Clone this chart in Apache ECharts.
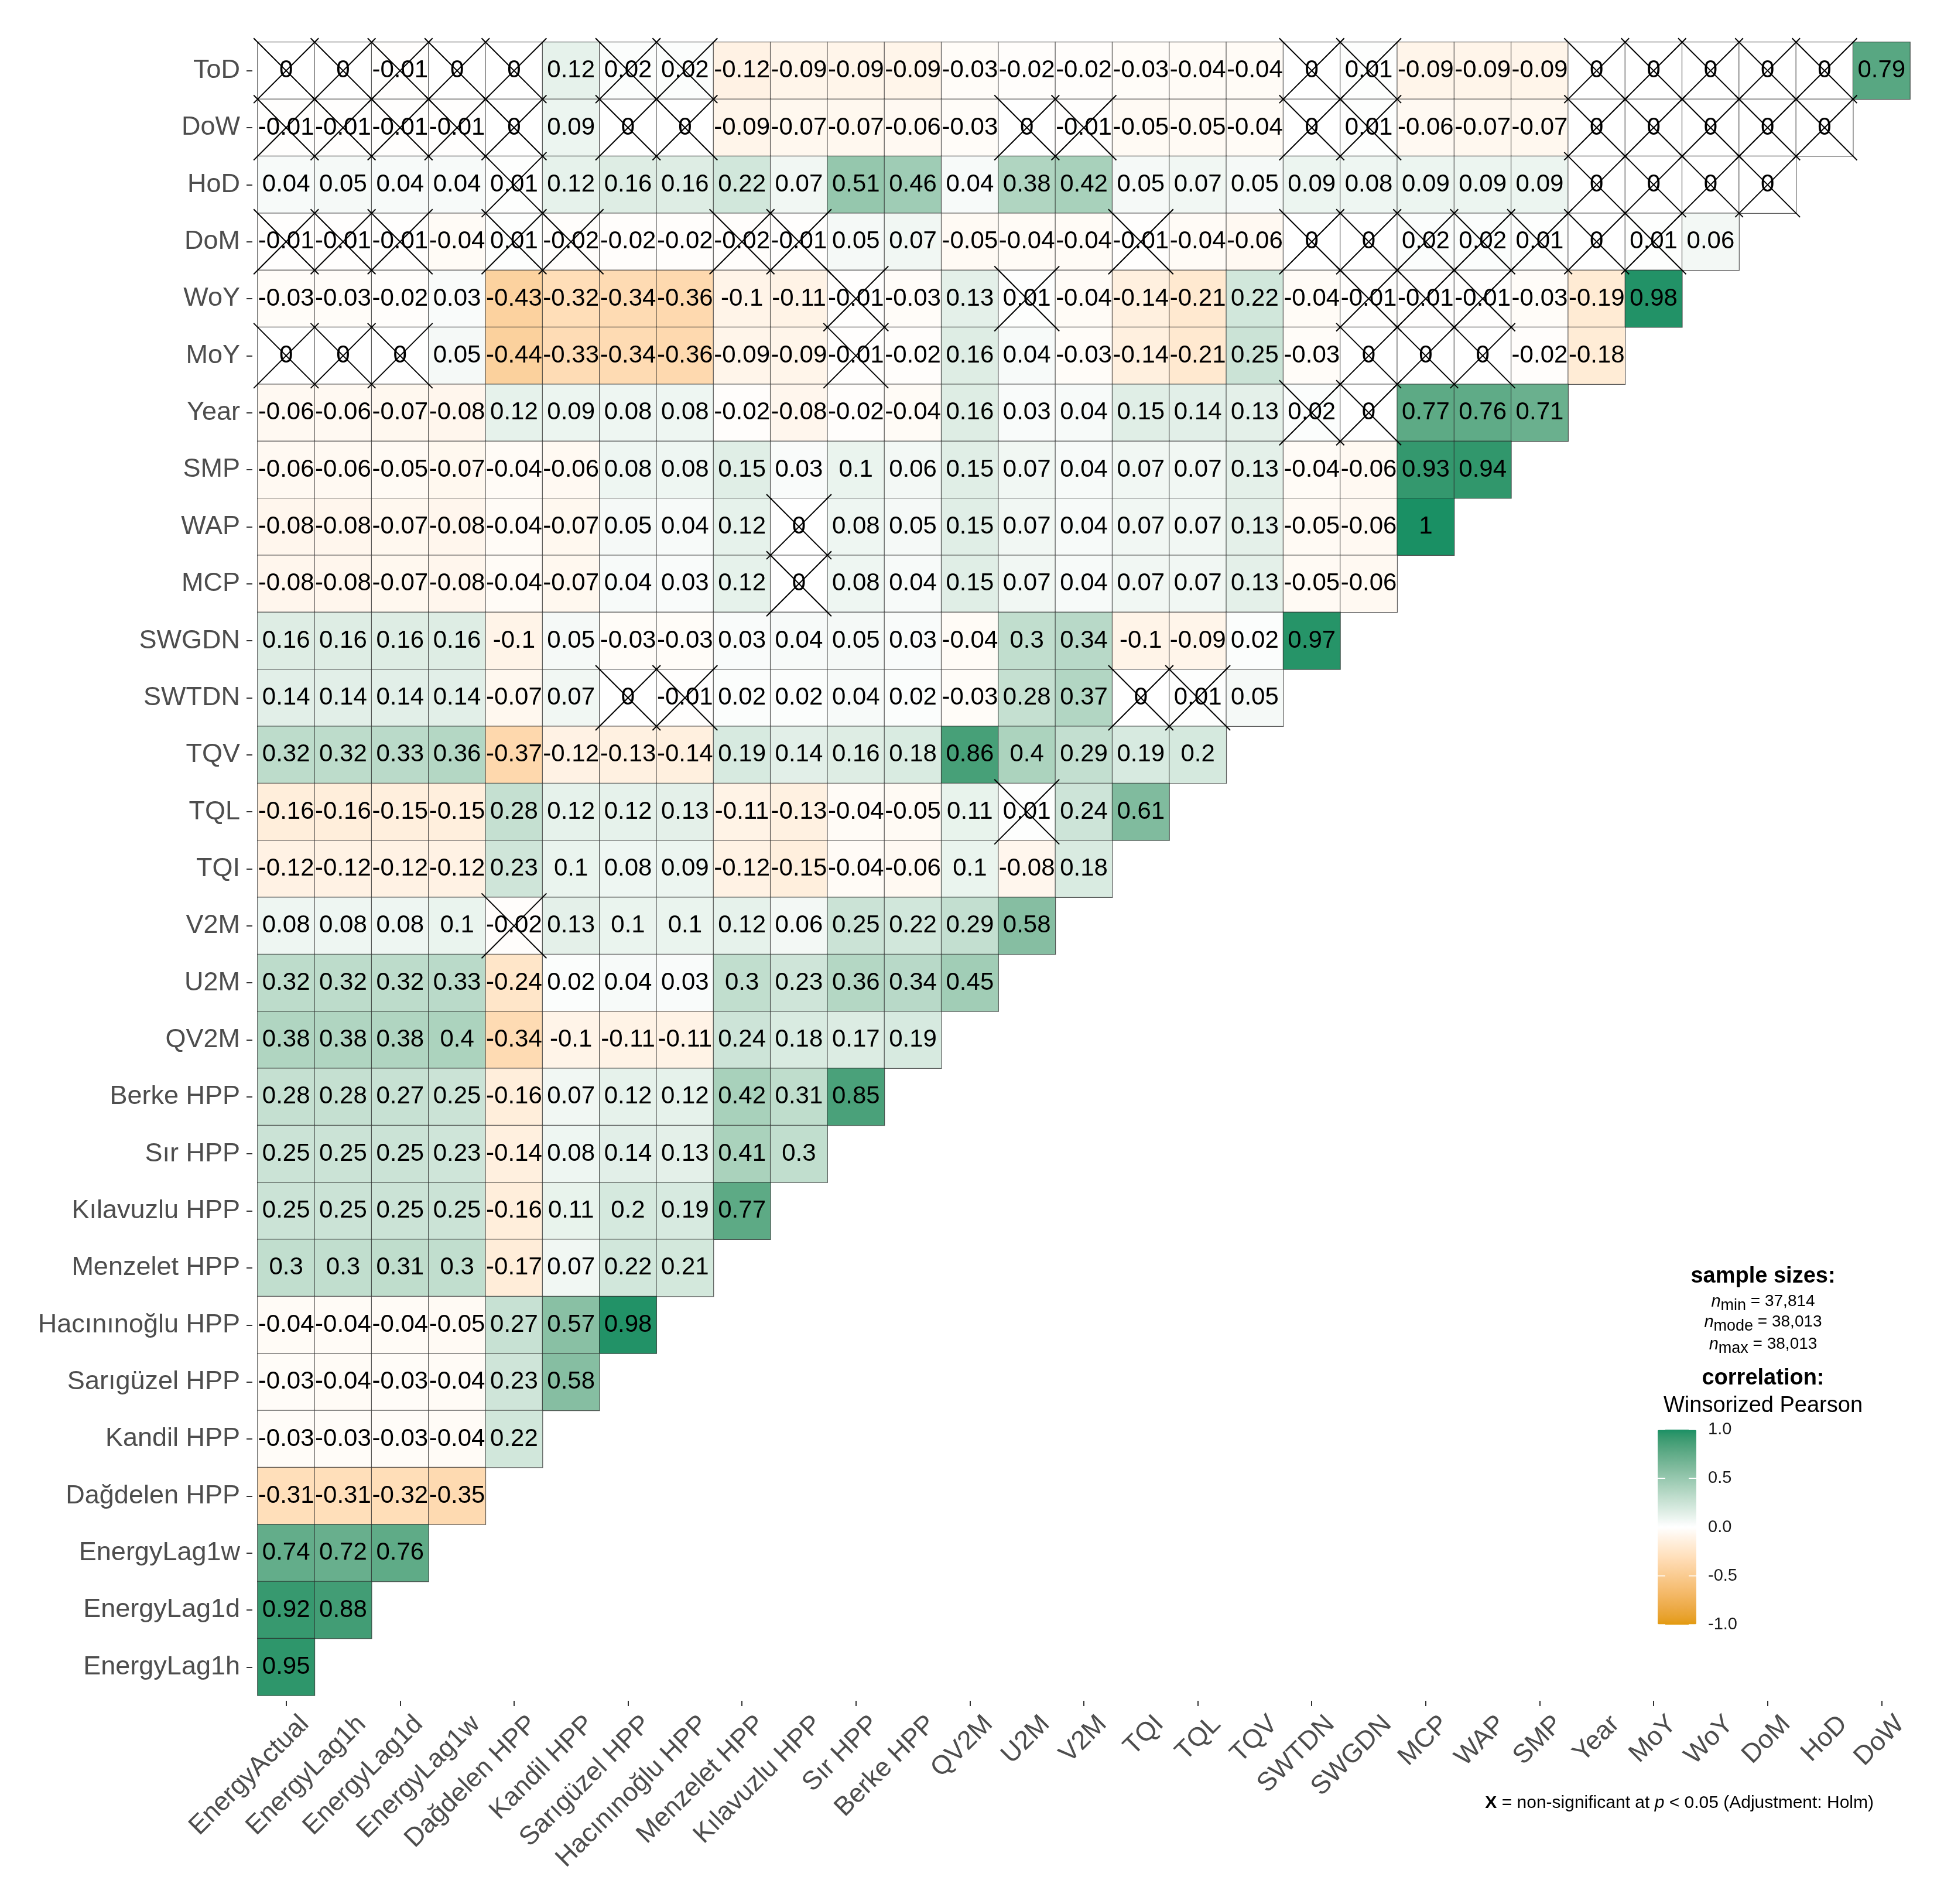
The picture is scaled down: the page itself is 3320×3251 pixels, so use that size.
<!DOCTYPE html>
<html>
<head>
<meta charset="utf-8">
<script src="https://cdn.jsdelivr.net/npm/echarts@6/dist/echarts.min.js"></script>
<style>
  html, body { margin: 0; padding: 0; background: #fff; }
  #chart { width: 3320px; height: 3251px; }
</style>
</head>
<body>
<div id="chart"></div>
<script>
// variables, top row to bottom row
var rowNames = ['ToD','DoW','HoD','DoM','WoY','MoY','Year','SMP','WAP','MCP','SWGDN','SWTDN','TQV','TQL','TQI','V2M','U2M','QV2M',
  'Berke HPP','Sır HPP','Kılavuzlu HPP','Menzelet HPP','Hacınınoğlu HPP','Sarıgüzel HPP','Kandil HPP','Dağdelen HPP',
  'EnergyLag1w','EnergyLag1d','EnergyLag1h'];
// variables, left to right
var colNames = ['EnergyActual','EnergyLag1h','EnergyLag1d','EnergyLag1w','Dağdelen HPP','Kandil HPP','Sarıgüzel HPP','Hacınınoğlu HPP',
  'Menzelet HPP','Kılavuzlu HPP','Sır HPP','Berke HPP','QV2M','U2M','V2M','TQI','TQL','TQV','SWTDN','SWGDN','MCP','WAP','SMP',
  'Year','MoY','WoY','DoM','HoD','DoW'];

// correlations per row (from left)
var vToD = [0,0,-0.01,0,0,0.12,0.02,0.02,-0.12,-0.09,-0.09,-0.09,-0.03,-0.02,-0.02,-0.03,-0.04,-0.04,0,0.01,-0.09,-0.09,-0.09,0,0,0,0,0,0.79];
var vDoW = [-0.01,-0.01,-0.01,-0.01,0,0.09,0,0,-0.09,-0.07,-0.07,-0.06,-0.03,0,-0.01,-0.05,-0.05,-0.04,0,0.01,-0.06,-0.07,-0.07,0,0,0,0,0];
var vHoD = [0.04,0.05,0.04,0.04,0.01,0.12,0.16,0.16,0.22,0.07,0.51,0.46,0.04,0.38,0.42,0.05,0.07,0.05,0.09,0.08,0.09,0.09,0.09,0,0,0,0];
var vDoM = [-0.01,-0.01,-0.01,-0.04,0.01,-0.02,-0.02,-0.02,-0.02,-0.01,0.05,0.07,-0.05,-0.04,-0.04,-0.01,-0.04,-0.06,0,0,0.02,0.02,0.01,0,0.01,0.06];
var vWoY = [-0.03,-0.03,-0.02,0.03,-0.43,-0.32,-0.34,-0.36,-0.1,-0.11,-0.01,-0.03,0.13,0.01,-0.04,-0.14,-0.21,0.22,-0.04,-0.01,-0.01,-0.01,-0.03,-0.19,0.98];
var vMoY = [0,0,0,0.05,-0.44,-0.33,-0.34,-0.36,-0.09,-0.09,-0.01,-0.02,0.16,0.04,-0.03,-0.14,-0.21,0.25,-0.03,0,0,0,-0.02,-0.18];
var vYear = [-0.06,-0.06,-0.07,-0.08,0.12,0.09,0.08,0.08,-0.02,-0.08,-0.02,-0.04,0.16,0.03,0.04,0.15,0.14,0.13,0.02,0,0.77,0.76,0.71];
var vSMP = [-0.06,-0.06,-0.05,-0.07,-0.04,-0.06,0.08,0.08,0.15,0.03,0.1,0.06,0.15,0.07,0.04,0.07,0.07,0.13,-0.04,-0.06,0.93,0.94];
var vWAP = [-0.08,-0.08,-0.07,-0.08,-0.04,-0.07,0.05,0.04,0.12,0,0.08,0.05,0.15,0.07,0.04,0.07,0.07,0.13,-0.05,-0.06,1];
var vMCP = [-0.08,-0.08,-0.07,-0.08,-0.04,-0.07,0.04,0.03,0.12,0,0.08,0.04,0.15,0.07,0.04,0.07,0.07,0.13,-0.05,-0.06];
var vSWGDN = [0.16,0.16,0.16,0.16,-0.1,0.05,-0.03,-0.03,0.03,0.04,0.05,0.03,-0.04,0.3,0.34,-0.1,-0.09,0.02,0.97];
var vSWTDN = [0.14,0.14,0.14,0.14,-0.07,0.07,0,-0.01,0.02,0.02,0.04,0.02,-0.03,0.28,0.37,0,0.01,0.05];
var vTQV = [0.32,0.32,0.33,0.36,-0.37,-0.12,-0.13,-0.14,0.19,0.14,0.16,0.18,0.86,0.4,0.29,0.19,0.2];
var vTQL = [-0.16,-0.16,-0.15,-0.15,0.28,0.12,0.12,0.13,-0.11,-0.13,-0.04,-0.05,0.11,0.01,0.24,0.61];
var vTQI = [-0.12,-0.12,-0.12,-0.12,0.23,0.1,0.08,0.09,-0.12,-0.15,-0.04,-0.06,0.1,-0.08,0.18];
var vV2M = [0.08,0.08,0.08,0.1,-0.02,0.13,0.1,0.1,0.12,0.06,0.25,0.22,0.29,0.58];
var vU2M = [0.32,0.32,0.32,0.33,-0.24,0.02,0.04,0.03,0.3,0.23,0.36,0.34,0.45];
var vQV2M = [0.38,0.38,0.38,0.4,-0.34,-0.1,-0.11,-0.11,0.24,0.18,0.17,0.19];
var vBerke = [0.28,0.28,0.27,0.25,-0.16,0.07,0.12,0.12,0.42,0.31,0.85];
var vSir = [0.25,0.25,0.25,0.23,-0.14,0.08,0.14,0.13,0.41,0.3];
var vKilavuzlu = [0.25,0.25,0.25,0.25,-0.16,0.11,0.2,0.19,0.77];
var vMenzelet = [0.3,0.3,0.31,0.3,-0.17,0.07,0.22,0.21];
var vHacininoglu = [-0.04,-0.04,-0.04,-0.05,0.27,0.57,0.98];
var vSariguzel = [-0.03,-0.04,-0.03,-0.04,0.23,0.58];
var vKandil = [-0.03,-0.03,-0.03,-0.04,0.22];
var vDagdelen = [-0.31,-0.31,-0.32,-0.35];
var vLag1w = [0.74,0.72,0.76];
var vLag1d = [0.92,0.88];
var vLag1h = [0.95];

// non-significant cells (column indexes) per row
var nsToD = [0,1,2,3,4,6,7,18,19,23,24,25,26,27];
var nsDoW = [0,1,2,3,4,6,7,13,14,18,19,23,24,25,26,27];
var nsHoD = [4,23,24,25,26];
var nsDoM = [0,1,2,4,5,8,9,15,18,19,20,21,22,23,24];
var nsWoY = [10,13,19,20,21];
var nsMoY = [0,1,2,10,19,20,21];
var nsYear = [18,19];
var nsWAP = [9];
var nsMCP = [9];
var nsSWTDN = [6,7,15,16];
var nsTQL = [13];
var nsV2M = [4];

var rowValues = [vToD,vDoW,vHoD,vDoM,vWoY,vMoY,vYear,vSMP,vWAP,vMCP,vSWGDN,vSWTDN,vTQV,vTQL,vTQI,vV2M,vU2M,vQV2M,
  vBerke,vSir,vKilavuzlu,vMenzelet,vHacininoglu,vSariguzel,vKandil,vDagdelen,vLag1w,vLag1d,vLag1h];
var rowNs = {0:nsToD,1:nsDoW,2:nsHoD,3:nsDoM,4:nsWoY,5:nsMoY,6:nsYear,8:nsWAP,9:nsMCP,11:nsSWTDN,13:nsTQL,15:nsV2M};

var cells = [];
var crosses = [];
rowValues.forEach(function(vals, r){
  vals.forEach(function(v, c){ cells.push([c, r, v]); });
  (rowNs[r] || []).forEach(function(c){ crosses.push([c, r]); });
});

// gradient2 in Lab space: orange - white - green
function toLin(c){ c /= 255; return c <= 0.04045 ? c/12.92 : Math.pow((c+0.055)/1.055, 2.4); }
function toSrgb(c){ var v = c <= 0.0031308 ? 12.92*c : 1.055*Math.pow(c, 1/2.4) - 0.055; return Math.round(Math.max(0, Math.min(1, v))*255); }
function hexLab(h){
  var r = toLin(parseInt(h.substr(1,2),16)), g = toLin(parseInt(h.substr(3,2),16)), b = toLin(parseInt(h.substr(5,2),16));
  var X = (0.4124*r + 0.3576*g + 0.1805*b)/0.95047, Y = 0.2126*r + 0.7152*g + 0.0722*b, Z = (0.0193*r + 0.1192*g + 0.9505*b)/1.08883;
  var f = function(t){ return t > 0.008856 ? Math.cbrt(t) : 7.787*t + 16/116; };
  return [116*f(Y) - 16, 500*(f(X) - f(Y)), 200*(f(Y) - f(Z))];
}
function labHex(L, a, bb){
  var fy = (L+16)/116, fx = a/500 + fy, fz = fy - bb/200;
  var fi = function(t){ var t3 = t*t*t; return t3 > 0.008856 ? t3 : (t - 16/116)/7.787; };
  var X = fi(fx)*0.95047, Y = fi(fy), Z = fi(fz)*1.08883;
  var r = 3.2406*X - 1.5372*Y - 0.4986*Z, g = -0.9689*X + 1.8758*Y + 0.0415*Z, b = 0.0557*X - 0.2040*Y + 1.0570*Z;
  return 'rgb(' + toSrgb(r) + ',' + toSrgb(g) + ',' + toSrgb(b) + ')';
}
var lowLab = hexLab('#E39A0E'), midLab = hexLab('#FFFFFF'), highLab = hexLab('#1A9064');
var stops = [];
for (var i = 0; i <= 40; i++) {
  var t = -1 + i*0.05, from = t < 0 ? lowLab : highLab, k = Math.abs(t);
  stops.push(labHex(midLab[0] + (from[0]-midLab[0])*k, midLab[1] + (from[1]-midLab[1])*k, midLab[2] + (from[2]-midLab[2])*k));
}

var FONT = '"Liberation Sans", Arial, Helvetica, sans-serif';
var gridL = 440, gridT = 72, gridW = 2822, gridH = 2823;

// colour bar geometry
var barL = 2831, barT = 2441, barW = 66, barH = 333;
var barTicks = [1, 0.5, 0, -0.5, -1];

var graphics = [];
function legendText(text, y, font, extra){
  var st = { text: text, x: 3011, y: y, align: 'center', verticalAlign: 'middle', font: font, fill: '#000' };
  if (extra) { for (var key in extra) st[key] = extra[key]; }
  graphics.push({ type: 'text', style: st, z: 10 });
}
legendText('sample sizes:', 2180, 'bold 38px ' + FONT);
var nRich = { n: { fontStyle: 'italic', fontSize: 29, fontFamily: FONT, verticalAlign: 'top' },
              s: { fontSize: 27, fontFamily: FONT, padding: [8,0,0,0], verticalAlign: 'top' },
              t: { fontSize: 28, fontFamily: FONT, verticalAlign: 'top' } };
legendText('{n|n}{s|min}{t| = 37,814}', 2226, '28px ' + FONT, { rich: nRich });
legendText('{n|n}{s|mode}{t| = 38,013}', 2261, '28px ' + FONT, { rich: nRich });
legendText('{n|n}{s|max}{t| = 38,013}', 2299, '28px ' + FONT, { rich: nRich });
legendText('correlation:', 2354, 'bold 38px ' + FONT);
legendText('Winsorized Pearson', 2401, '38px ' + FONT);
barTicks.forEach(function(v){
  var y = barT + (1 - v)/2*barH;
  graphics.push({ type: 'text', z: 10, style: { text: v.toFixed(1), x: 2917, y: y, align: 'left', verticalAlign: 'middle', font: '29px ' + FONT, fill: '#1a1a1a' } });
  graphics.push({ type: 'line', z: 10, shape: { x1: barL, y1: y, x2: barL + 13, y2: y }, style: { stroke: '#fff', lineWidth: 1.5 } });
  graphics.push({ type: 'line', z: 10, shape: { x1: barL + barW - 13, y1: y, x2: barL + barW, y2: y }, style: { stroke: '#fff', lineWidth: 1.5 } });
});
// caption
graphics.push({ type: 'text', z: 10, style: {
  text: '{b|X}{r| = non-significant at }{i|p}{r| < 0.05 (Adjustment: Holm)}', x: 3200, y: 3079, align: 'right', verticalAlign: 'middle',
  rich: { b: { fontWeight: 'bold', fontSize: 30, fontFamily: FONT, fill: '#000' },
          r: { fontSize: 30, fontFamily: FONT, fill: '#000' },
          i: { fontStyle: 'italic', fontSize: 30, fontFamily: FONT, fill: '#000' } } } });

var chart = echarts.init(document.getElementById('chart'), null, { renderer: 'canvas' });
var option = {
  backgroundColor: '#ffffff',
  animation: false,
  textStyle: { fontFamily: FONT },
  grid: [
    { left: gridL, top: gridT, width: gridW, height: gridH },
    { left: gridL + 32, top: gridT, width: gridW, height: gridH }
  ],
  xAxis: [
    { type: 'category', data: colNames, gridIndex: 0, position: 'bottom', offset: 9,
      axisLine: { show: false }, splitLine: { show: false },
      axisTick: { show: true, alignWithLabel: true, length: 9, lineStyle: { color: '#333', width: 2 } },
      axisLabel: { show: false } },
    { type: 'category', data: colNames, gridIndex: 1, position: 'bottom',
      axisLine: { show: false }, axisTick: { show: false }, splitLine: { show: false },
      axisLabel: { interval: 0, rotate: 45, margin: 42, fontSize: 45, color: '#4D4D4D', fontFamily: FONT } }
  ],
  yAxis: [
    { type: 'category', data: rowNames, inverse: true, gridIndex: 0, offset: 9,
      axisLine: { show: false }, splitLine: { show: false },
      axisTick: { show: true, alignWithLabel: true, length: 10, lineStyle: { color: '#333', width: 2 } },
      axisLabel: { interval: 0, margin: 21, fontSize: 45, color: '#4D4D4D', fontFamily: FONT } },
    { type: 'category', data: rowNames, inverse: true, gridIndex: 1, show: false }
  ],
  visualMap: {
    type: 'continuous', seriesIndex: 0, dimension: 2, min: -1, max: 1,
    calculable: false, hoverLink: false, realtime: false,
    left: barL, top: barT, padding: 0, itemWidth: barW, itemHeight: barH,
    inRange: { color: stops }, text: null, showLabel: false
  },
  series: [
    {
      type: 'heatmap', xAxisIndex: 0, yAxisIndex: 0, data: cells,
      itemStyle: { borderColor: 'rgba(40,40,40,0.75)', borderWidth: 1.2 },
      label: { show: true, fontSize: 42, color: '#000', fontFamily: FONT,
        formatter: function(p){ return String(p.value[2]); } },
      emphasis: { disabled: true }, silent: true, z: 2
    },
    {
      type: 'custom', xAxisIndex: 0, yAxisIndex: 0, data: crosses, silent: true, z: 5,
      renderItem: function(params, api){
        var c = api.coord([api.value(0), api.value(1)]);
        var s = api.size([1, 1]);
        var hw = s[0]*0.57, hh = s[1]*0.57;
        var st = { stroke: '#000', lineWidth: 2, fill: null };
        return { type: 'group', children: [
          { type: 'line', shape: { x1: c[0]-hw, y1: c[1]-hh, x2: c[0]+hw, y2: c[1]+hh }, style: st },
          { type: 'line', shape: { x1: c[0]-hw, y1: c[1]+hh, x2: c[0]+hw, y2: c[1]-hh }, style: st }
        ] };
      }
    }
  ],
  graphic: graphics
};
chart.setOption(option);
</script>
</body>
</html>
